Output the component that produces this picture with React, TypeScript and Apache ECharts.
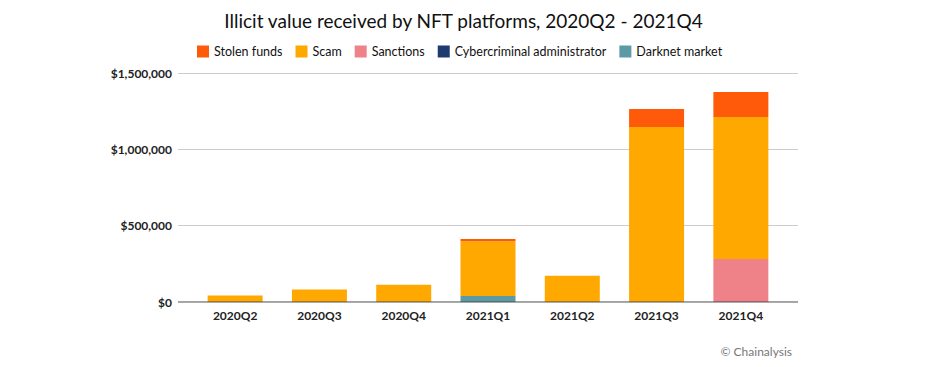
import React, { useEffect, useRef } from "react";
import * as echarts from "echarts";

const categories = ["2020Q2", "2020Q3", "2020Q4", "2021Q1", "2021Q2", "2021Q3", "2021Q4"];
const stolenFunds = [0, 0, 0, 15000, 0, 118000, 164000];
const scam = [42000, 82000, 113000, 358000, 172000, 1146000, 930000];
const sanctions = [0, 0, 0, 0, 0, 0, 282000];
const cybercriminalAdmin = [0, 0, 0, 0, 0, 0, 0];
const darknetMarket = [0, 0, 0, 40000, 0, 0, 0];
const yTicks = [0, 500000, 1000000, 1500000];

const FONT = "Lato, 'Noto Sans', sans-serif";

export default function App() {
  const ref = useRef<HTMLDivElement>(null);
  useEffect(() => {
    document.body.style.margin = "0";
    const chart = echarts.init(ref.current!, undefined, { renderer: "svg" });
    const fmt = (v: number) => "$" + v.toLocaleString("en-US");
    const mk = (name: string, data: number[], color: string) => ({
      name,
      type: "bar",
      stack: "total",
      data,
      xAxisIndex: 1,
      yAxisIndex: 1,
      barWidth: 55,
      itemStyle: { color },
    });
    chart.setOption({
      animation: false,
      textStyle: { fontFamily: FONT },
      title: {
        text: "Illicit value received by NFT platforms, 2020Q2 - 2021Q4",
        left: "center",
        top: 6,
        textStyle: { fontFamily: FONT, fontSize: 19, fontWeight: "normal", color: "#111" },
      },
      legend: {
        top: 40,
        left: 192,
        itemWidth: 12,
        itemHeight: 12,
        itemGap: 13,
        icon: "rect",
        textStyle: { fontFamily: FONT, fontSize: 12.5, color: "#111" },
        data: ["Stolen funds", "Scam", "Sanctions", "Cybercriminal administrator", "Darknet market"],
      },
      graphic: [
        {
          type: "text",
          right: 135,
          top: 345,
          style: { text: "© Chainalysis", fontFamily: FONT, fontSize: 12, fill: "#777" },
        },
      ],
      grid: [
        { left: 178, right: 129, top: 73, bottom: 65 },
        { left: 193, right: 144, top: 73, bottom: 65 },
      ],
      xAxis: [
        { type: "value", gridIndex: 0, show: false, min: 0, max: 1 },
        {
          type: "category",
          gridIndex: 1,
          data: categories,
          axisLine: { show: false },
          axisTick: { show: false },
          axisLabel: { color: "#222", fontSize: 12, fontWeight: "bold", margin: 7, fontFamily: FONT },
        },
      ],
      yAxis: [
        {
          type: "value",
          gridIndex: 0,
          min: 0,
          max: 1500000,
          interval: 500000,
          axisLine: { show: false },
          axisTick: { show: false },
          axisLabel: {
            formatter: (v: number) => (yTicks.includes(v) ? fmt(v) : ""),
            color: "#222",
            fontSize: 12,
            fontWeight: "bold",
            margin: 6,
            fontFamily: FONT,
          },
          splitLine: { lineStyle: { color: "#ccc", width: 1 } },
        },
        { type: "value", gridIndex: 1, min: 0, max: 1500000, interval: 500000, show: false, splitLine: { show: false } },
      ],
      series: [
        mk("Darknet market", darknetMarket, "#5b9aa6"),
        mk("Cybercriminal administrator", cybercriminalAdmin, "#1f3a6e"),
        mk("Sanctions", sanctions, "#ef8289"),
        mk("Scam", scam, "#ffa800"),
        mk("Stolen funds", stolenFunds, "#ff5a0a"),
        {
          type: "line",
          xAxisIndex: 0,
          yAxisIndex: 0,
          data: [[0, 0], [1, 0]],
          symbol: "none",
          silent: true,
          lineStyle: { color: "#444", width: 1 },
          z: 10,
        },
      ],
    });
    return () => chart.dispose();
  }, []);
  return <div ref={ref} style={{ width: 927, height: 367 }} />;
}
